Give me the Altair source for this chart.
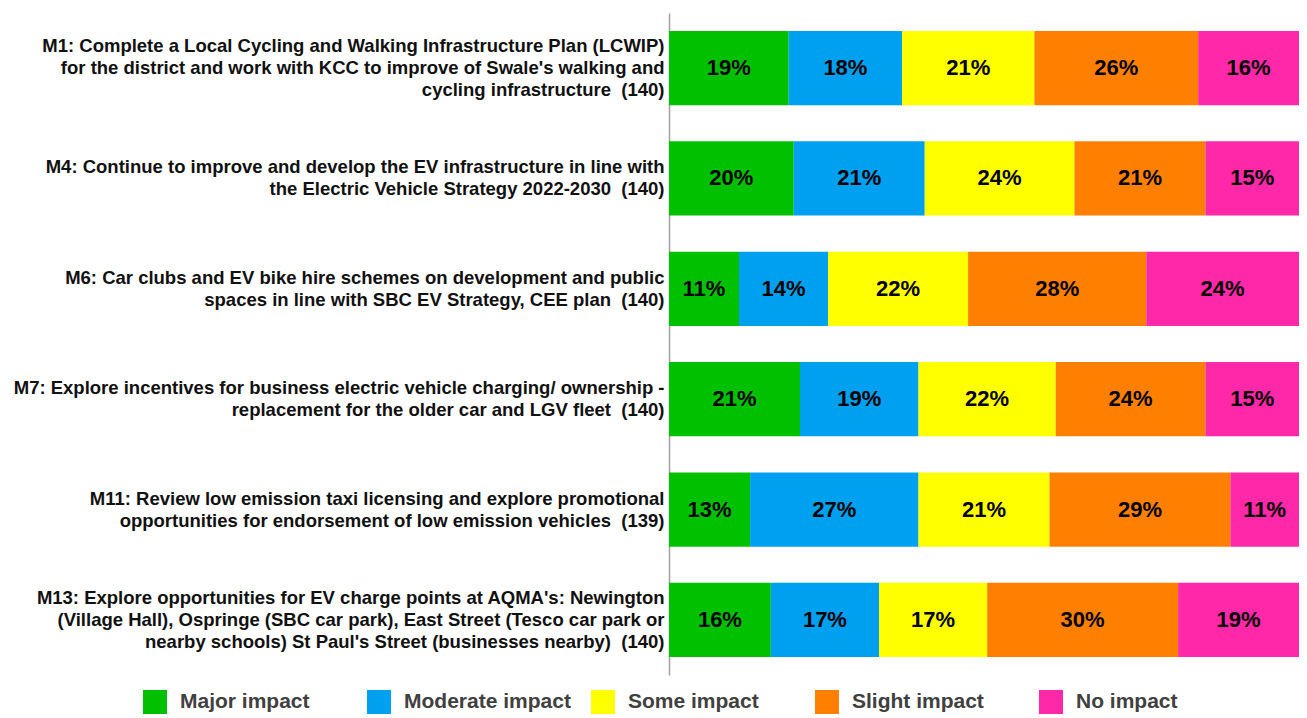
import altair as alt
import pandas as pd

SP = " \u00a0"
items = [
    "M1: Complete a Local Cycling and Walking Infrastructure Plan (LCWIP)|for the district and work with KCC to improve of Swale's walking and|cycling infrastructure" + SP + "(140)",
    "M4: Continue to improve and develop the EV infrastructure in line with|the Electric Vehicle Strategy 2022-2030" + SP + "(140)",
    "M6: Car clubs and EV bike hire schemes on development and public|spaces in line with SBC EV Strategy, CEE plan" + SP + "(140)",
    "M7: Explore incentives for business electric vehicle charging/ ownership -|replacement for the older car and LGV fleet" + SP + "(140)",
    "M11: Review low emission taxi licensing and explore promotional|opportunities for endorsement of low emission vehicles" + SP + "(139)",
    "M13: Explore opportunities for EV charge points at AQMA's: Newington|(Village Hall), Ospringe (SBC car park), East Street (Tesco car park or|nearby schools) St Paul's Street (businesses nearby)" + SP + "(140)",
]

impacts = ["Major impact", "Moderate impact", "Some impact", "Slight impact", "No impact"]
colors = ["#00C000", "#00A0F0", "#FFFF00", "#FF8000", "#FF28A8"]

major = [19, 20, 11, 21, 13, 16]
moderate = [18, 21, 14, 19, 27, 17]
some = [21, 24, 22, 22, 21, 17]
slight = [26, 21, 28, 24, 29, 30]
none_ = [16, 15, 24, 15, 11, 19]

series = [major, moderate, some, slight, none_]

rows = []
for k, (imp, vals) in enumerate(zip(impacts, series)):
    for item, v in zip(items, vals):
        rows.append({"item": item, "impact": imp, "order": k, "value": v})
df = pd.DataFrame(rows)

FONT = "Liberation Sans"

yenc = alt.Y(
    "item:N",
    sort=items,
    title=None,
    scale=alt.Scale(paddingInner=0.327, paddingOuter=0.162),
    axis=alt.Axis(
        labelExpr="split(datum.label, '|')",
        labelFont=FONT,
        labelFontSize=18.5,
        labelFontWeight="bold",
        labelColor="#111111",
        labelLimit=800,
        labelLineHeight=22,
        labelPadding=5,
        labelOffset={
            "condition": {"test": "length(split(datum.value, '|')) == 3", "value": -22},
            "value": -11,
        },
        ticks=False,
        domain=True,
        domainColor="#A0A0A0",
        domainWidth=1.5,
        grid=False,
        labelAlign="right",
        labelBaseline="middle",
    ),
)

bars = alt.Chart(df).mark_bar(strokeWidth=0).encode(
    y=yenc,
    x=alt.X("value:Q", stack="normalize", axis=None, scale=alt.Scale(domain=[0, 1], nice=False, zero=True)),
    color=alt.Color(
        "impact:N",
        sort=impacts,
        scale=alt.Scale(domain=impacts, range=colors),
        legend=alt.Legend(
            title=None,
            orient="none",
            legendX=-526,
            legendY=677,
            direction="horizontal",
            columns=5,
            gridAlign="all",
            columnPadding=20,
            symbolType="square",
            symbolSize=576,
            symbolStrokeWidth=0,
            symbolOffset=0,
            labelOffset=13,
            labelFont=FONT,
            labelFontSize=21,
            labelFontWeight="bold",
            labelColor="#404040",
            labelLimit=300,
        ),
    ),
    order=alt.Order("order:Q"),
)

text = (
    alt.Chart(df)
    .transform_stack(
        stack="value",
        groupby=["item"],
        sort=[alt.SortField("order")],
        offset="normalize",
        as_=["x0", "x1"],
    )
    .transform_calculate(mid="(datum.x0 + datum.x1) / 2", label="datum.value + '%'")
    .mark_text(font=FONT, fontSize=22, fontWeight="bold", color="#000000", align="center", baseline="middle")
    .encode(
        y=alt.Y("item:N", sort=items),
        x=alt.X("mid:Q"),
        text="label:N",
    )
)

chart = (
    alt.layer(bars, text)
    .properties(
        width=630,
        height=662,
        autosize=alt.AutoSizeParams(type="none"),
        padding={"left": 661, "top": 5, "right": 0, "bottom": 41},
    )
    .configure_view(stroke=None)
)

chart.save("out.html", embed_options={"renderer": "svg", "actions": False})
